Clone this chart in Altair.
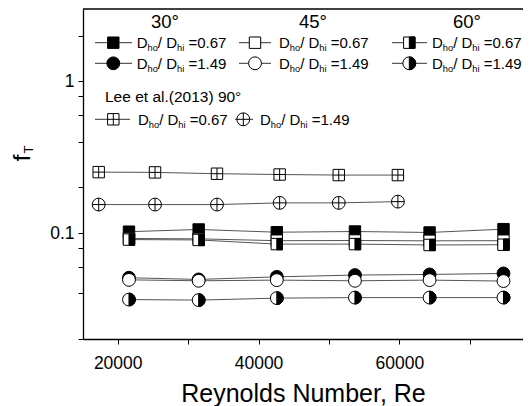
import altair as alt
import pandas as pd

# ---------------- data ----------------
re_present = [21600, 31500, 42600, 53700, 64300, 74800]
f_30_067 = [0.102, 0.1055, 0.1012, 0.1023, 0.1008, 0.106]
f_45_067 = [0.092, 0.0915, 0.089, 0.0892, 0.0888, 0.089]
f_60_067 = [0.0905, 0.0900, 0.0845, 0.0845, 0.0834, 0.0837]
f_30_149 = [0.0507, 0.0494, 0.0514, 0.0528, 0.0533, 0.0541]
f_45_149 = [0.0491, 0.0484, 0.0489, 0.0484, 0.0489, 0.0482]
f_60_149 = [0.0364, 0.0361, 0.0372, 0.0375, 0.0375, 0.0375]

re_lee = [17300, 25300, 34100, 43000, 51400, 59800]
f_lee_067 = [0.252, 0.251, 0.246, 0.243, 0.241, 0.241]
f_lee_149 = [0.154, 0.154, 0.154, 0.158, 0.158, 0.161]

x_ticks = [20000, 30000, 40000, 50000, 60000, 70000]
y_ticks = [0.02, 0.04, 0.06, 0.08, 0.1, 0.2, 0.4, 0.6, 0.8, 1, 2]

angle_headers = ["30°", "45°", "60°"]
lee_header = "Lee et al.(2013) 90°"
ratio_labels = ["0.67", "1.49"]

# ---------------- styling ----------------
FONT = "Liberation Sans"
OX, OY = 83, 9          # page position of plot origin
PW, PH = 440, 330       # plot size
SQ, CI = 130, 165       # marker areas
LINE_COLOR = "#555555"

RIGHT_HALF_SQ = "M0,-1L1,-1L1,1L0,1Z"
RIGHT_HALF_CI = "M0,-1A1,1,0,0,1,0,1Z"
CROSS = "M-1,0L1,0M0,-1L0,1"

xs = alt.Scale(type="linear", domain=[15070, 77570], nice=False, zero=False)
ys = alt.Scale(type="log", domain=[0.02, 3], nice=False)

X = alt.X("re:Q", scale=xs,
          axis=alt.Axis(values=x_ticks, format="d",
                        labelExpr="datum.value % 20000 == 0 ? datum.label : ''",
                        title="Reynolds Number, Re", titlePadding=10,
                        labelPadding=10, labelFlush=False, labelOverlap=False))
Y = alt.Y("f:Q", scale=ys,
          axis=alt.Axis(values=y_ticks, title=None, labelPadding=4,
                        labelExpr="datum.value == 1 ? '1' : (abs(datum.value - 0.1) < 1e-9 ? '0.1' : '')",
                        labelOverlap=False))

ONE = pd.DataFrame({"k": [0]})


def sym(kind, data, x, y, size):
    base = dict(size=size, opacity=1, strokeWidth=1)
    out = []
    shape = "square" if kind.startswith("sq") or kind == "lee_sq" else "circle"
    if kind in ("sq_black", "ci_black"):
        out.append(alt.Chart(data).mark_point(shape=shape, filled=True, fill="black",
                                              stroke="black", **base).encode(x=x, y=y))
    else:
        out.append(alt.Chart(data).mark_point(shape=shape, filled=True, fill="white",
                                              stroke="black", **base).encode(x=x, y=y))
        if kind in ("sq_half", "ci_half"):
            p = RIGHT_HALF_SQ if kind == "sq_half" else RIGHT_HALF_CI
            out.append(alt.Chart(data).mark_point(shape=p, filled=True, fill="black",
                                                  stroke="black", **base).encode(x=x, y=y))
        if kind in ("lee_sq", "lee_ci"):
            out.append(alt.Chart(data).mark_point(shape=CROSS, filled=False, color="black",
                                                  **base).encode(x=x, y=y))
    return out


series = [
    ("lee067", re_lee, f_lee_067, "lee_sq", SQ),
    ("lee149", re_lee, f_lee_149, "lee_ci", CI),
    ("a30_067", re_present, f_30_067, "sq_black", SQ),
    ("a45_067", re_present, f_45_067, "sq_open", SQ),
    ("a60_067", re_present, f_60_067, "sq_half", SQ),
    ("a30_149", re_present, f_30_149, "ci_black", CI),
    ("a45_149", re_present, f_45_149, "ci_open", CI),
    ("a60_149", re_present, f_60_149, "ci_half", CI),
]

long = pd.concat([pd.DataFrame({"re": r, "f": v, "series": name})
                  for name, r, v, _, _ in series], ignore_index=True)

layers = [alt.Chart(long).mark_line(color=LINE_COLOR, strokeWidth=1).encode(
    x=X, y=Y, detail="series:N", order="re:Q")]
for name, r, v, kind, size in series:
    layers += sym(kind, pd.DataFrame({"re": r, "f": v}), X, Y, size)


# ---------------- frame top edge, in-plot legend ----------------
def txt(x, y, s, fs, align="left", angle=0, font=FONT):
    return alt.Chart(ONE).mark_text(text=s, font=font, fontSize=fs, align=align,
                                    baseline="alphabetic", color="black",
                                    angle=angle).encode(x=alt.value(x), y=alt.value(y))


def rule(x1, x2, y, color="#333333", w=1):
    return alt.Chart(ONE).mark_rule(color=color, strokeWidth=w).encode(
        x=alt.value(x1), x2=alt.value(x2), y=alt.value(y))


W = {"D": .722, "h": .556, "o": .556, "i": .222, "/": .278, " ": .278, "=": .584, ".": .278}


def tw(s, fs):
    return sum(W.get(c, .556) for c in s) * fs


def dlabel(x0, yb, val, fs=15):
    sub = fs * 0.62
    out = []
    x = x0
    for t, f, dy in [("D", fs, 0), ("ho", sub, 3), ("/ D", fs, 0), ("hi", sub, 3)]:
        out.append(txt(x, yb + dy, t, f))
        x += tw(t, f)
    x += tw(" ", fs)
    out.append(txt(x, yb, "=" + val, fs))
    return out


def P(xp):
    return xp - OX


def Q(yp):
    return yp - OY


legend = [rule(0, PW, 0, color="black", w=1.3)]
hdr_x = [165, 313, 467]
for h, hx in zip(angle_headers, hdr_x):
    legend.append(txt(P(hx), Q(28), h, 18.5, align="center"))

col_line = [(95, 132), (239, 271), (392, 427)]
col_mark = [113.3, 255, 409.3]
col_text = [136.7, 279, 432]
row_y = [42.7, 63.3]
kinds = [["sq_black", "ci_black"], ["sq_open", "ci_open"], ["sq_half", "ci_half"]]
for c in range(3):
    for r in range(2):
        legend.append(rule(P(col_line[c][0]), P(col_line[c][1]), Q(row_y[r])))
        legend += sym(kinds[c][r], ONE, alt.value(P(col_mark[c])), alt.value(Q(row_y[r])),
                      SQ if r == 0 else CI)
        legend += dlabel(P(col_text[c]), Q(row_y[r] + 5.3), ratio_labels[r])

legend.append(txt(P(105), Q(101.7), lee_header, 15.5))
lee_y = 119.3
for (l1, l2), mx, tx, kind, size, lab in [((95, 130), 113.3, 138, "lee_sq", SQ, ratio_labels[0]),
                                          ((235, 253), 243.3, 260, "lee_ci", CI, ratio_labels[1])]:
    legend.append(rule(P(l1), P(l2), Q(lee_y)))
    legend += sym(kind, ONE, alt.value(P(mx)), alt.value(Q(lee_y)), size)
    legend += dlabel(P(tx), Q(lee_y + 5.3), lab)

# y-axis title f_T (rotated, with subscript)
legend.append(txt(P(30), Q(158), "f", 24, align="center", angle=270))
legend.append(txt(P(33), Q(149.5), "T", 13, align="center", angle=270))

chart = alt.layer(*layers, *legend).properties(
    width=PW, height=PH,
    padding={"left": OX - 8, "top": OY - 8, "right": 0, "bottom": 67},
    autosize=alt.AutoSizeParams(type="none"),
).configure_view(strokeWidth=0).configure_axis(
    labelFont=FONT, titleFont=FONT, labelFontSize=17.5, titleFontSize=25,
    titleFontWeight="normal", labelColor="black", titleColor="black",
    tickColor="black", domainColor="black", tickSize=5, tickWidth=1,
    domainWidth=1.3, grid=False)

chart.save("out.html", embed_options={"renderer": "svg", "actions": False})
